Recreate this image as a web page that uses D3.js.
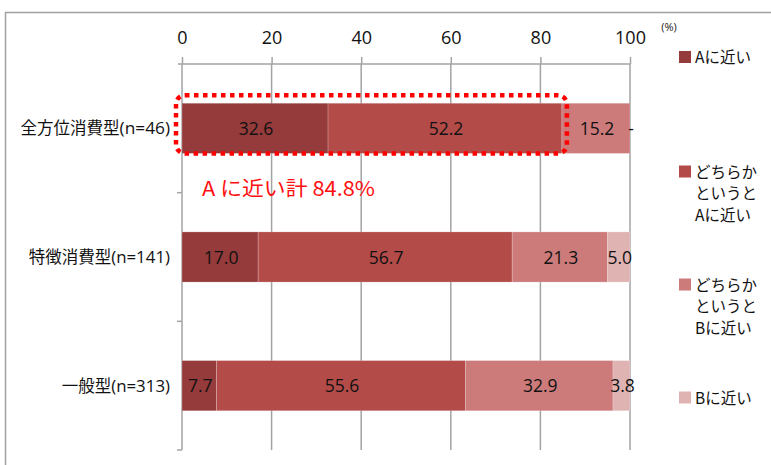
<!DOCTYPE html>
<html lang="ja">
<head>
<meta charset="utf-8">
<script src="https://cdn.jsdelivr.net/npm/d3@7"></script>
<style>
  html, body { margin: 0; padding: 0; background: #fff; }
  svg { display: block; }
</style>
</head>
<body>
<svg id="chart" width="771" height="465"></svg>
<script>
// Categories (consumer types) and their sample sizes
const categories = ["全方位消費型", "特徴消費型", "一般型"];
const sampleSizes = ["(n=46)", "(n=141)", "(n=313)"];

// Share of answers (%) per category, one array per answer
const valuesA = [32.6, 17.0, 7.7];
const valuesLeanA = [52.2, 56.7, 55.6];
const valuesLeanB = [15.2, 21.3, 32.9];
const valuesB = [0, 5.0, 3.8];

// Answer names and how they wrap in the legend
const seriesNames = ["Aに近い", "どちらかというとAに近い", "どちらかというとBに近い", "Bに近い"];
const legendLines = [["Aに近い"], ["どちらか", "というと", "Aに近い"], ["どちらか", "というと", "Bに近い"], ["Bに近い"]];
const seriesColors = ["#953b3b", "#b34b49", "#cc7b7a", "#e0b3b3"];

const xTicks = [0, 20, 40, 60, 80, 100];

const svg = d3.select("#chart");
const jp = "'Noto Sans CJK JP', 'Noto Sans', sans-serif";
const latin = "'Open Sans', 'Liberation Sans', sans-serif";
const gridColor = "#a3a3a3";

// Outer frame of the chart area
svg.append("path")
  .attr("d", "M5.5,465 V12.5 H771")
  .attr("fill", "none").attr("stroke", "#a0a0a0").attr("stroke-width", 1.5);

const plot = { left: 182, right: 630, top: 64, bottom: 450 };

const x = d3.scaleLinear().domain([0, 100]).range([plot.left, plot.right]);
const y = d3.scaleBand().domain(categories).range([plot.top, plot.bottom])
  .paddingInner(0.61).paddingOuter(0.305);

// Stack the four answers per category
const rows = categories.map((c, i) => ({
  cat: c, n: sampleSizes[i],
  s0: valuesA[i], s1: valuesLeanA[i], s2: valuesLeanB[i], s3: valuesB[i]
}));
const stack = d3.stack().keys(["s0", "s1", "s2", "s3"])(rows);

// Vertical gridlines
svg.append("g").selectAll("line")
  .data(xTicks.filter(t => t > 0))
  .join("line")
  .attr("x1", d => x(d)).attr("x2", d => x(d))
  .attr("y1", plot.top).attr("y2", plot.bottom)
  .attr("stroke", gridColor).attr("stroke-width", 1.5);

// Top value axis
const xAxis = svg.append("g")
  .attr("transform", `translate(0,${plot.top})`)
  .call(d3.axisTop(x).tickValues(xTicks).tickSize(7).tickPadding(13).tickSizeOuter(0));
xAxis.select(".domain").remove();
xAxis.selectAll(".tick line").attr("stroke", gridColor).attr("stroke-width", 1.5);
xAxis.selectAll(".tick text")
  .attr("font-family", latin).attr("font-size", 18).attr("fill", "#111");
svg.append("line")
  .attr("x1", plot.left - 4).attr("x2", x(100))
  .attr("y1", plot.top).attr("y2", plot.top)
  .attr("stroke", gridColor).attr("stroke-width", 1.5);

// Unit mark
svg.append("text")
  .attr("x", 669).attr("y", 31).attr("text-anchor", "middle")
  .attr("font-family", latin).attr("font-size", 11).attr("fill", "#222")
  .text("(%)");

// Category axis with ticks between bands
svg.append("line")
  .attr("x1", plot.left).attr("x2", plot.left)
  .attr("y1", plot.top).attr("y2", plot.bottom)
  .attr("stroke", gridColor).attr("stroke-width", 1.5);
const bounds = [plot.top].concat(categories.map(c => y(c) + y.bandwidth() + y.step() * y.paddingInner() / 2));
svg.append("g").selectAll("line")
  .data(bounds.slice(1))
  .join("line")
  .attr("x1", plot.left - 5).attr("x2", plot.left)
  .attr("y1", (d, i) => i === bounds.length - 2 ? plot.bottom : d)
  .attr("y2", (d, i) => i === bounds.length - 2 ? plot.bottom : d)
  .attr("stroke", gridColor).attr("stroke-width", 1.5);

// Category labels
const catLabels = svg.append("g").selectAll("text")
  .data(rows)
  .join("text")
  .attr("x", 170)
  .attr("y", d => y(d.cat) + y.bandwidth() / 2 + 6)
  .attr("text-anchor", "end")
  .attr("fill", "#111");
catLabels.append("tspan").attr("font-family", jp).attr("font-size", 16.5).text(d => d.cat);
catLabels.append("tspan").attr("font-family", latin).attr("font-size", 16.5)
  .attr("textLength", d => d.n.length * 8.4).attr("lengthAdjust", "spacingAndGlyphs")
  .text(d => d.n);

// Stacked bars
const layers = svg.append("g").selectAll("g")
  .data(stack)
  .join("g")
  .attr("fill", (d, i) => seriesColors[i]);
layers.selectAll("rect")
  .data(d => d)
  .join("rect")
  .attr("x", d => x(d[0]))
  .attr("y", d => y(d.data.cat))
  .attr("width", d => x(d[1]) - x(d[0]))
  .attr("height", y.bandwidth())
  .attr("stroke", "rgba(255,255,255,0.25)")
  .attr("stroke-width", 0.8);

// Value labels centred in each segment
layers.selectAll("text")
  .data(d => d)
  .join("text")
  .attr("x", d => (x(d[0]) + x(d[1])) / 2 + 1)
  .attr("y", d => y(d.data.cat) + y.bandwidth() / 2 + 6.5)
  .attr("text-anchor", "middle")
  .attr("font-family", latin).attr("font-size", 17.5)
  .attr("fill", "#111")
  .text(d => { const v = d[1] - d[0]; return v > 0 ? v.toFixed(1) : "-"; });

// Highlight the combined "A" share of the first category
const first = rows[0];
const totalA = first.s0 + first.s1;
const bx0 = x(0) - 6, bx1 = x(totalA) + 5;
const by0 = y(first.cat) - 8, by1 = y(first.cat) + y.bandwidth();
svg.append("rect")
  .attr("x", bx0).attr("y", by0)
  .attr("width", bx1 - bx0).attr("height", by1 - by0)
  .attr("rx", 9).attr("ry", 9)
  .attr("fill", "none").attr("stroke", "#ff0000")
  .attr("stroke-width", 4.5).attr("stroke-dasharray", "4.5 4.5");
svg.append("text")
  .attr("x", 202).attr("y", 196)
  .attr("font-family", jp).attr("font-size", 20.5)
  .attr("fill", "#ff1010")
  .attr("textLength", 173).attr("lengthAdjust", "spacingAndGlyphs")
  .text(`A に近い計 ${totalA.toFixed(1)}%`);

// Legend
const legendTop = [57, 171.5, 284.5, 397.5];
const legend = svg.append("g").selectAll("g")
  .data(seriesNames)
  .join("g")
  .attr("transform", (d, i) => `translate(679,${legendTop[i]})`);
legend.append("rect")
  .attr("x", 0).attr("y", -6).attr("width", 12).attr("height", 12)
  .attr("fill", (d, i) => seriesColors[i]);
legend.each(function (d, i) {
  d3.select(this).selectAll("text")
    .data(legendLines[i])
    .join("text")
    .attr("x", 16)
    .attr("y", (t, j) => j * 21.5 + 6)
    .attr("font-family", jp).attr("font-size", 15.5).attr("fill", "#111")
    .text(t => t);
});
</script>
</body>
</html>
